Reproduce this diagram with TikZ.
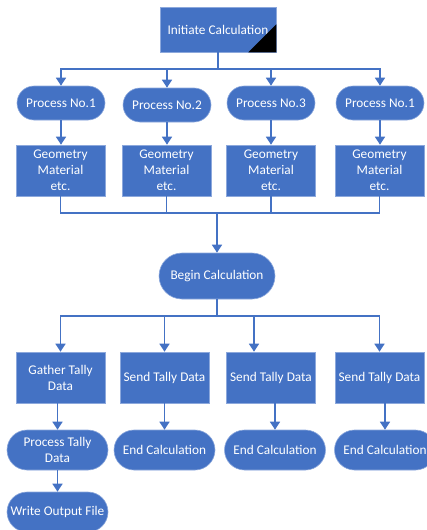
\documentclass[tikz,border=0pt]{standalone}
\usepackage{fontspec}
\setmainfont{Carlito}
\usetikzlibrary{arrows.meta}
\definecolor{fillblue}{HTML}{4472C4}
\definecolor{edgeblue}{HTML}{8CA8DC}
\begin{document}
\begin{tikzpicture}[x=1pt,y=-1pt,
  base/.style={fill=fillblue,draw=edgeblue,line width=0.6pt,text=white,align=center,
    font=\fontsize{13.3}{16}\selectfont,inner sep=1pt},
  boxnode/.style={base,rectangle,minimum width=89pt,minimum height=51pt},
  pill/.style={base,rectangle,rounded corners=17pt,minimum width=88pt,minimum height=34pt},
  endpill/.style={base,rectangle,rounded corners=20pt,minimum width=101pt,minimum height=40pt},
  link/.style={draw=fillblue,line width=1.5pt},
  arr/.style={link,-{Triangle[width=10pt,length=8pt]}}]
\useasboundingbox (0,0) rectangle (427,530);
\begin{scope}
\clip (0,0) rectangle (427,530);
% top node
\node[base,rectangle,minimum width=116pt,minimum height=45pt] (init) at (218,29.5) {Initiate Calculation};
\fill[black] (init.south east) -- ([yshift=28pt]init.south east) -- ([xshift=-28pt]init.south east) -- cycle;
% processes
\node[pill] (p1) at (61,103) {Process No.1};
\node[pill] (p2) at (167,105) {Process No.2};
\node[pill] (p3) at (271,103) {Process No.3};
\node[pill] (p4) at (380,103) {Process No.1};
% geometry
\node[boxnode] (g1) at (60.5,170.5) {Geometry\\Material\\etc.};
\node[boxnode] (g2) at (166.5,170.5) {Geometry\\Material\\etc.};
\node[boxnode] (g3) at (271,170.5) {Geometry\\Material\\etc.};
\node[boxnode] (g4) at (379.5,170.5) {Geometry\\Material\\etc.};
% begin
\node[base,rectangle,rounded corners=23pt,minimum width=116pt,minimum height=46pt] (begin) at (217,276) {Begin Calculation};
% tally
\node[boxnode] (gath) at (60.5,377.5) {Gather Tally\\Data};
\node[boxnode] (s1) at (164.5,377.5) {Send Tally Data};
\node[boxnode] (s2) at (271,377.5) {Send Tally Data};
\node[boxnode] (s3) at (379.5,377.5) {Send Tally Data};
% ends
\node[endpill] (e1) at (164.5,450) {End Calculation};
\node[endpill] (e2) at (275,450) {End Calculation};
\node[endpill] (e3) at (385,450) {End Calculation};
\node[endpill] (pt) at (57.5,450) {Process Tally\\Data};
\node[endpill] (wo) at (57.5,512) {Write Output File};
% connectors top
\coordinate (bar1) at (218,69);
\draw[link] (init.south) -- (bar1);
\draw[arr] (bar1) -| (p1.north);
\draw[arr] (bar1) -| (p2.north);
\draw[arr] (bar1) -| (p3.north);
\draw[arr] (bar1) -| (p4.north);
\foreach \p/\g in {p1/g1,p2/g2,p3/g3,p4/g4}
  \draw[arr] (\p.south) -- (\p.south|-\g.north);
\coordinate (bar2) at (217,213);
\foreach \g in {g1,g2,g3,g4}
  \draw[link] (\g.south) |- (bar2);
\draw[arr] (bar2) -- (begin.north);
\coordinate (bar3) at (217,316);
\draw[link] (begin.south) -- (bar3);
\draw[arr] (bar3) -| (gath.north);
\draw[arr] (bar3) -| (s1.north);
\draw[arr] (bar3) -| ([xshift=-17pt]s2.north);
\draw[arr] (bar3) -| (s3.north);
\draw[arr] (gath.south-|pt.north) -- (pt.north);
\draw[arr] (s1.south-|e1.north) -- (e1.north);
\draw[arr] (s2.south-|e2.north) -- (e2.north);
\draw[arr] (s3.south-|e3.north) -- (e3.north);
\draw[arr] (pt.south) -- (wo.north);
\end{scope}
\end{tikzpicture}
\end{document}
